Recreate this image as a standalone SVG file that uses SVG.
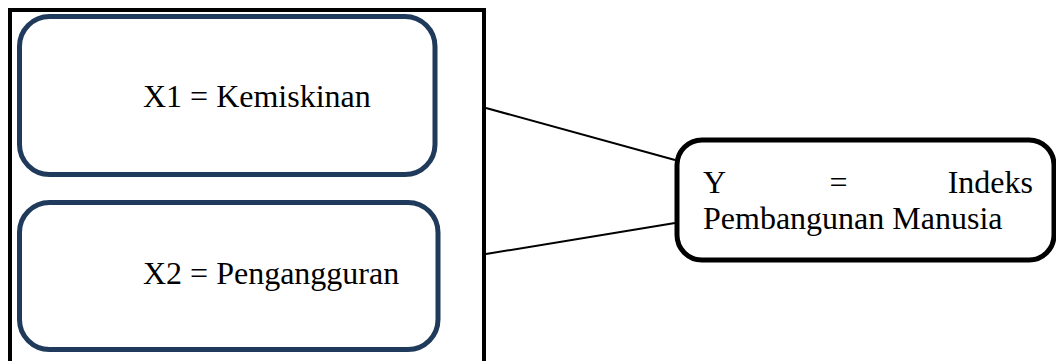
<svg xmlns="http://www.w3.org/2000/svg" width="1056" height="361" viewBox="0 0 1056 361">
<style>
.t{font-family:"Liberation Serif","Times New Roman",serif;font-size:32px;fill:#000}
.xbox{fill:#fff;stroke:#1F3A5A;stroke-width:5}
.ybox{fill:#fff;stroke:#000;stroke-width:5}
.con{stroke:#000;stroke-width:2;fill:none}
</style>
<rect width="1056" height="361" fill="#fff"/>
<g id="frame"><rect x="10" y="10" width="474" height="370" fill="none" stroke="#000" stroke-width="4"/></g>
<g id="x1"><rect class="xbox" x="19.5" y="16.5" width="415.5" height="158" rx="30"/><text class="t" x="143" y="107">X1 = Kemiskinan</text></g>
<g id="x2"><rect class="xbox" x="19.5" y="202.5" width="418.5" height="147" rx="30"/><text class="t" x="143" y="284">X2 = Pengangguran</text></g>
<g id="connectors">
<line class="con" x1="486" y1="108" x2="675" y2="160"/>
<line class="con" x1="486" y1="254" x2="675" y2="223"/>
</g>
<g id="y"><rect class="ybox" x="677" y="140" width="377" height="120" rx="25"/>
<text class="t" x="703" y="193">Y</text><text class="t" x="838.5" y="193" text-anchor="middle">=</text><text class="t" x="1033" y="193" text-anchor="end">Indeks</text>
<text class="t" x="703" y="229">Pembangunan Manusia</text></g>
</svg>
